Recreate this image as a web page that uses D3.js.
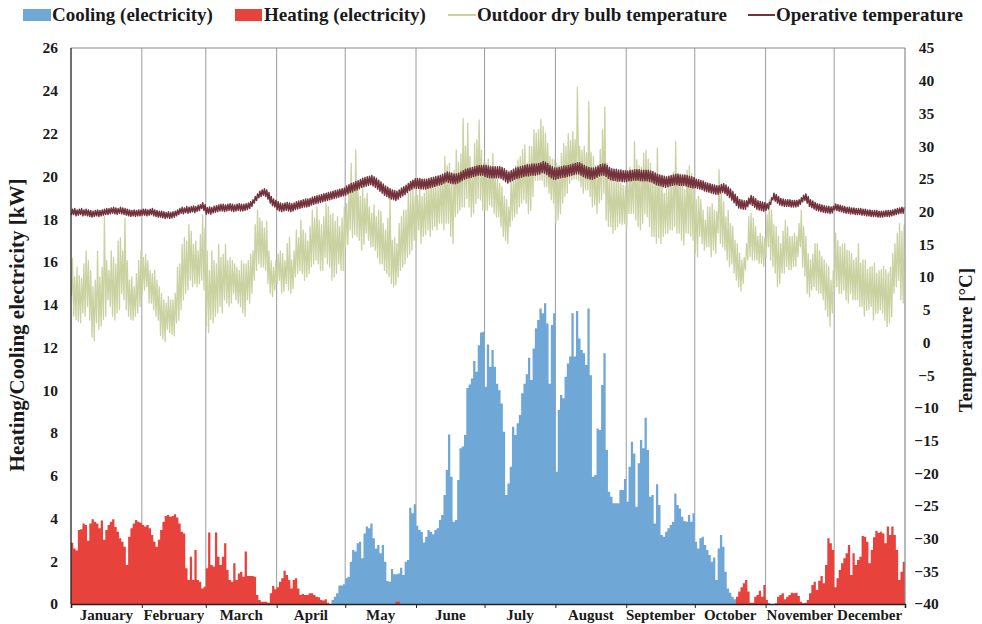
<!DOCTYPE html>
<html><head><meta charset="utf-8">
<script src="https://cdn.jsdelivr.net/npm/d3@7"></script>
<style>
html,body{margin:0;padding:0;background:#fff;}
svg text{font-family:"Liberation Serif","Times New Roman",serif;font-weight:bold;fill:#1a1a1a;}
</style></head>
<body><svg id="chart" width="982" height="624"></svg>
<script>
const months = ["January","February","March","April","May","June","July","August","September","October","November","December"];
const monthDays = [31,28,31,30,31,30,31,31,30,31,30,31];
const leftTicks = [0,2,4,6,8,10,12,14,16,18,20,22,24,26];
const rightTicks = [-40,-35,-30,-25,-20,-15,-10,-5,0,5,10,15,20,25,30,35,40,45];

// daily cooling electricity [kW]
const coolingKW = [
 0,0,0,0,0,0,0,0,0,0,0,0,0,0,0,0,0,0,0,0,0,0,0,0,0,0,0,0,0,0,0,
 0,0,0,0,0,0,0,0,0,0,0,0,0,0,0,0,0,0,0,0,0,0,0,0,0,0,0,0,
 0,0,0,0,0,0,0,0,0,0,0,0,0,0,0,0,0,0,0,0,0,0,0,0,0,0,0,0,0,0,0,
 0,0,0,0,0,0,0,0,0,0,0,0,0,0,0,0,0,0,0,0,0,0,0,0,0.19,0.34,0.5,0.86,0.86,0.92,
 1.2,1.28,1.98,2.52,2.45,2.84,2.91,2.14,3.3,3.62,3.54,3.77,3.07,2.6,2.76,2.37,2.76,1.98,1.08,1.04,1.64,1.39,1.39,1.43,1.7,1.36,1.98,2.06,4.5,4.24,4.66,
 3.66,3.46,3.38,2.88,3.15,3.46,3.38,3.26,3.46,3.54,3.93,4.16,5.1,6.27,7.93,5.95,3.85,3.93,5.8,7.28,7.36,7.9,10.1,10.27,10.55,11.36,10.86,12.1,12.7,12.73,
 10.16,12.14,11.1,11.88,11.1,10.3,10.0,9.38,8.06,5.1,5.64,6.42,8.29,7.9,8.45,8.84,9.85,10.3,10.74,11.52,10.47,11.95,12.9,13.28,13.82,13.6,14.06,13.12,10.3,13.05,13.6,
 6.19,9.07,9.77,9.62,10.63,11.25,11.57,13.6,11.57,13.7,12.42,11.88,11.72,11.18,13.82,10.7,5.95,6.03,8.21,8.14,10.24,11.72,7.2,5.25,5.02,4.71,4.71,4.71,5.33,5.33,5.84,
 4.78,6.42,7.59,7.04,4.55,6.58,7.67,7.28,8.71,7.2,5.02,5.1,3.77,5.6,4.63,3.23,3.15,3.38,3.54,3.69,3.85,5.17,4.63,4.47,4.08,3.88,3.85,4.16,3.85,4.24,
 2.91,2.6,3.07,3.15,2.76,2.52,2.29,1.98,2.18,1.12,2.6,3.23,2.68,1.51,0.73,0.53,0.34,0.22,0,0,0,0,0,0,0,0,0,0,0,0,0,
 0,0,0,0,0,0,0,0,0,0,0,0,0,0,0,0,0,0,0,0,0,0,0,0,0,0,0,0,0,0,
 0,0,0,0,0,0,0,0,0,0,0,0,0,0,0,0,0,0,0,0,0,0,0,0,0,0,0,0,0,0,0
];

// daily heating electricity [kW]
const heatingKW = [
 2.87,2.6,2.5,3.46,3.5,3.77,3.7,2.96,3.77,3.96,3.85,3.77,3.54,3.9,3.0,3.46,3.7,3.85,3.96,3.6,3.38,3.07,2.91,2.68,1.82,3.15,3.54,3.77,3.93,3.85,3.8,
 3.69,3.62,3.69,3.54,3.23,2.91,2.68,3.0,3.46,3.85,4.11,4.16,4.08,4.11,4.2,4.05,3.77,3.38,3.3,1.67,1.12,2.21,1.12,2.52,1.12,1.04,0.73,0.81,
 1.67,3.34,1.82,1.75,3.34,2.21,1.82,2.21,2.84,1.59,1.12,1.04,1.9,1.12,1.43,1.51,1.28,2.45,1.31,1.31,1.31,1.28,0.42,0.19,0.1,0.1,0.1,0.06,0.5,0.84,0.69,
 0.78,1.04,1.2,1.56,1.36,1.12,0.73,1.12,1.2,0.73,0.42,0.47,0.42,0.42,0.5,0.5,0.42,0.34,0.31,0.19,0.16,0.22,0.06,0,0,0,0,0,0,0,
 0,0,0,0,0,0,0,0,0,0,0,0,0,0,0,0,0,0,0,0,0,0,0.12,0.12,0,0,0,0,0,0,0,
 0,0,0,0,0,0,0,0,0,0,0,0,0,0,0,0,0,0,0,0,0,0,0,0,0,0,0,0,0,0,
 0,0,0,0,0,0,0,0,0,0,0,0,0,0,0,0,0,0,0,0,0,0,0,0,0,0,0,0,0,0,0,
 0,0,0,0,0,0,0,0,0,0,0,0,0,0,0,0,0,0,0,0,0,0,0,0,0,0,0,0,0,0,0,
 0,0,0,0,0,0,0,0,0,0,0,0,0,0,0,0,0,0,0,0,0,0,0,0,0,0,0,0,0,0,
 0,0,0,0,0,0,0,0,0,0,0,0,0,0,0,0,0,0,0.34,0.58,0.78,0.97,1.12,0.58,0.06,0.06,0.34,0.42,0.62,0.34,0.89,
 0.19,0.03,0,0,0.03,0.34,0.42,0.5,0.22,0.34,0.42,0.53,0.5,0.53,0.37,0.11,0.03,0.06,0.19,0.5,0.89,1.04,0.65,1.09,1.31,0.97,1.82,3.07,2.84,2.52,
 0.78,1.2,1.59,1.9,2.14,2.37,2.76,1.36,2.37,1.82,2.06,2.21,3.18,3.15,2.91,1.9,2.52,3.12,3.43,3.33,3.38,3.3,2.84,3.62,3.23,3.62,3.23,2.52,1.12,1.51,1.98
];

// daily max / min outdoor dry bulb temperature [°C]
const outdoorMax = [
 12.8,10.0,11.5,10.2,9.8,12.0,14.0,12.5,11.0,8.5,9.5,14.0,10.0,11.5,19.2,12.5,11.0,14.0,13.0,12.0,15.5,16.0,14.0,19.0,12.5,9.5,10.0,8.5,10.5,12.5,14.0,
 13.0,13.5,12.5,11.0,10.5,11.0,9.5,8.5,7.5,6.5,6.0,7.0,6.5,6.5,7.5,11.5,12.0,15.0,16.0,15.5,18.0,17.0,15.0,15.5,14.0,16.5,19.5,17.5,
 14.0,11.0,14.0,12.5,12.0,15.0,13.0,13.5,15.0,12.5,13.0,12.5,12.0,11.5,11.0,12.5,12.0,12.0,12.5,13.5,14.0,18.0,20.2,19.0,18.5,17.5,18.5,14.0,12.5,11.5,12.5,
 13.5,14.0,13.6,12.5,15.1,16.1,12.6,14.0,17.2,16.0,18.7,17.2,16.7,15.5,17.7,20.2,19.0,20.7,18.7,18.0,19.2,21.2,20.7,19.5,19.7,18.5,19.2,17.7,19.0,20.7,
 21.2,23.5,27.4,24.0,29.4,23.3,22.3,23.8,22.0,22.8,20.7,19.7,21.0,19.2,20.2,20.0,18.2,17.2,19.0,22.3,15.6,16.0,15.1,18.2,19.2,20.2,20.2,22.8,23.3,23.5,22.3,
 22.5,23.8,22.3,22.8,24.0,23.8,24.8,25.0,24.3,23.8,25.3,25.8,28.4,27.0,27.4,25.3,26.3,29.4,27.5,28.8,34.2,30.0,33.5,28.4,26.3,30.4,31.0,34.0,29.4,27.4,
 27.4,28.0,27.0,28.9,25.8,25.0,24.3,23.8,22.3,21.8,20.7,24.8,25.8,27.0,27.9,28.4,29.5,30.2,27.4,30.0,29.9,32.5,32.0,32.5,34.1,33.0,32.0,30.4,28.4,28.0,27.9,
 27.4,27.0,28.9,30.4,30.0,31.9,30.9,32.2,31.0,39.0,30.0,29.4,30.0,29.0,36.8,29.0,28.4,27.0,26.8,29.5,32.5,36.0,27.4,25.8,25.0,24.8,25.3,25.3,24.3,24.0,23.8,
 24.8,26.8,25.8,30.7,27.9,27.0,26.8,28.9,29.4,28.0,27.4,25.3,24.8,29.7,25.3,24.8,22.8,23.3,24.0,24.8,26.0,30.7,25.8,25.8,24.8,23.3,26.3,27.0,25.8,23.8,
 21.8,22.3,21.8,20.2,18.7,20.7,20.7,21.2,20.2,20.0,26.4,22.8,21.5,19.2,20.2,18.2,17.7,15.6,15.1,13.6,12.6,13.0,15.1,19.2,19.7,19.0,17.7,16.2,16.7,16.2,16.0,
 19.5,21.8,20.2,18.0,17.7,16.2,15.1,17.0,18.7,17.7,16.2,16.2,16.7,16.2,18.2,20.2,17.7,16.2,13.6,12.6,13.5,15.1,15.1,14.0,13.1,12.6,12.0,11.6,9.5,11.0,
 16.7,15.6,14.6,15.0,15.1,14.1,14.0,13.6,12.6,13.0,15.1,12.1,12.6,12.6,11.1,11.5,11.6,12.1,10.6,11.0,11.1,11.6,11.1,10.6,11.5,13.6,15.1,16.7,18.2,17.0,18.0
];
const outdoorMin = [
 7.0,4.0,3.5,3.2,3.0,4.5,4.0,5.5,3.4,0.8,0.2,3.0,2.0,2.5,3.5,4.0,6.5,5.5,4.0,3.4,4.5,5.0,7.5,6.5,5.0,4.0,3.5,3.4,4.0,4.5,5.5,
 7.5,8.0,8.5,6.0,6.0,5.0,4.0,3.4,1.0,0.5,0.1,2.0,1.5,1.2,1.0,3.0,3.4,5.0,6.5,7.5,8.0,9.5,8.5,9.0,8.5,9.0,9.5,8.0,
 2.5,1.5,3.5,3.0,4.0,4.5,5.5,4.5,6.5,6.0,5.5,6.0,7.5,6.5,6.0,5.5,4.5,4.0,6.5,6.0,7.5,9.5,11.0,12.0,11.5,11.5,11.0,9.0,7.5,7.0,8.0,
 9.0,9.5,7.5,7.8,9.0,8.0,7.5,8.2,10.0,10.5,11.0,10.5,9.5,10.0,10.5,11.6,12.0,12.6,12.0,11.0,11.0,13.0,12.0,11.5,9.5,10.0,10.5,12.0,11.0,11.0,
 14.6,15.0,17.2,16.0,16.5,16.2,15.6,14.1,15.0,16.7,15.6,14.6,14.6,14.1,13.0,12.0,12.0,11.0,10.5,10.0,9.0,8.5,8.8,10.0,11.0,11.5,12.0,13.0,13.5,14.1,15.6,
 15.6,17.2,15.1,16.2,16.5,17.2,16.2,17.2,17.7,17.2,18.2,18.2,17.2,18.2,18.2,16.2,15.1,19.2,19.7,20.2,20.7,20.7,22.0,20.7,19.2,19.7,21.2,22.0,21.8,20.2,
 20.2,20.2,21.0,20.7,19.7,19.2,19.2,17.7,16.2,15.6,15.1,17.7,18.7,19.2,19.7,20.7,21.3,21.8,21.3,19.7,20.2,22.3,24.8,24.8,24.8,24.8,23.8,23.8,22.8,21.8,21.3,
 18.2,18.7,19.7,21.3,22.3,22.8,24.3,24.8,25.0,25.0,24.8,23.8,22.8,23.3,23.3,22.3,20.7,21.0,19.7,21.3,21.8,22.8,18.7,17.7,17.7,16.7,17.2,17.7,18.2,18.0,18.2,
 17.2,19.7,19.7,19.7,18.7,17.7,17.2,18.2,19.7,19.2,17.7,16.2,16.2,15.1,16.0,15.1,16.2,16.7,16.7,17.2,17.2,17.7,16.7,16.7,15.6,14.9,16.7,16.7,16.2,15.6,
 13.6,13.1,16.2,15.1,14.1,14.6,14.6,13.1,14.1,13.6,16.7,15.1,14.6,14.1,12.6,11.6,12.0,10.6,9.5,8.5,7.8,9.0,11.1,12.6,13.1,12.6,12.6,12.6,12.1,12.1,11.6,
 13.0,14.6,12.6,11.6,10.6,8.5,9.0,10.6,10.6,11.6,11.1,11.1,11.6,11.6,13.1,14.6,11.5,10.1,7.5,7.0,8.0,8.5,8.0,7.5,7.5,6.5,5.0,3.9,2.4,4.5,
 8.0,8.5,7.5,7.5,8.0,6.5,6.0,7.5,6.5,6.5,6.5,5.5,5.5,4.0,4.9,5.0,5.5,3.4,4.4,4.5,5.0,4.5,3.4,2.4,3.0,3.9,7.5,8.5,9.5,6.5,6.0
];

// daily mean operative temperature [°C] and its typical daily range per month
const operativeMean = [
 19.9,20.0,19.8,19.9,20.0,19.8,19.9,19.8,19.7,19.6,19.7,19.8,19.7,19.8,19.9,20.0,20.0,20.1,20.2,20.1,20.0,20.2,20.1,20.0,19.9,19.8,19.7,19.8,19.7,19.8,19.8,
 19.9,19.9,19.8,19.9,20.0,19.8,19.7,19.6,19.6,19.5,19.4,19.5,19.4,19.5,19.6,19.8,20.0,20.2,20.1,20.3,20.2,20.3,20.4,20.3,20.5,20.6,20.9,20.6,
 20.1,20.2,20.1,20.3,20.4,20.5,20.6,20.6,20.5,20.6,20.7,20.6,20.5,20.6,20.7,20.6,20.6,20.7,20.8,21.0,21.3,21.8,22.2,22.6,22.8,23.0,22.8,22.4,21.8,21.4,21.2,
 20.9,20.7,20.6,20.7,20.8,20.7,20.6,20.7,20.9,21.0,21.1,21.2,21.3,21.3,21.4,21.6,21.7,21.8,21.9,22.0,22.1,22.2,22.3,22.4,22.5,22.6,22.7,22.8,22.9,23.0,
 23.2,23.4,23.6,23.7,23.9,24.0,24.2,24.4,24.5,24.6,24.7,24.8,24.6,24.4,24.1,23.8,23.5,23.2,23.0,22.8,22.6,22.5,22.4,22.6,22.9,23.1,23.3,23.6,23.9,24.1,24.3,
 24.3,24.3,24.2,24.2,24.2,24.3,24.4,24.5,24.6,24.7,24.8,24.9,25.1,25.3,25.2,25.1,25.0,25.0,25.1,25.3,25.5,25.7,25.8,25.9,26.0,26.1,26.2,26.3,26.3,26.3,
 26.2,26.1,26.0,26.0,26.0,26.0,26.0,25.9,25.7,25.4,25.2,25.4,25.6,25.8,25.9,26.0,26.1,26.2,26.3,26.3,26.4,26.4,26.4,26.5,26.6,26.8,26.7,26.5,26.2,26.0,25.8,
 25.8,25.9,26.0,26.1,26.1,26.2,26.3,26.4,26.5,26.6,26.6,26.4,26.2,26.0,25.9,25.8,25.8,25.9,26.1,26.3,26.4,26.4,26.2,25.9,25.7,25.6,25.6,25.5,25.5,25.4,25.4,
 25.4,25.5,25.5,25.6,25.6,25.6,25.5,25.5,25.5,25.5,25.4,25.3,25.1,24.9,24.8,24.7,24.6,24.5,24.6,24.7,24.8,24.9,24.9,24.8,24.8,24.8,24.7,24.6,24.5,24.4,
 24.3,24.2,24.1,24.0,23.8,23.7,23.6,23.5,23.4,23.3,23.3,23.5,23.6,23.4,23.1,22.8,22.4,22.0,21.6,21.2,21.1,21.0,21.0,21.4,21.8,21.6,21.3,21.0,20.9,20.8,20.7,
 20.7,20.9,21.6,22.3,22.1,21.8,21.5,21.4,21.3,21.3,21.3,21.2,21.2,21.2,21.3,21.6,22.0,22.2,21.8,21.3,21.1,20.9,20.7,20.6,20.5,20.4,20.3,20.3,20.2,20.3,
 20.7,20.6,20.5,20.4,20.3,20.2,20.2,20.1,20.1,20.0,20.0,20.0,19.9,19.9,19.8,19.8,19.7,19.7,19.7,19.6,19.6,19.6,19.7,19.7,19.7,19.8,19.9,20.0,20.1,20.2,20.2
];
const operativeDailyRange = [0.9,0.9,1.0,1.2,1.4,1.5,1.7,1.7,1.6,1.3,1.0,0.9];

const C_COOL = "#6fa8d6", C_HEAT = "#e8423d", C_OUT = "#cad2a2", C_OP = "#74323d";

const svg = d3.select("#chart");
const L = 71, R = 905, T = 48, B = 604;
const x = d3.scaleLinear().domain([0, 365]).range([L, R]);
const yL = d3.scaleLinear().domain([0, 26]).range([B, T]);
const yR = d3.scaleLinear().domain([-40, 45]).range([B, T]);

// month boundaries
const bounds = [0];
monthDays.forEach(n => bounds.push(bounds[bounds.length - 1] + n));
const monthOfDay = [];
monthDays.forEach((n, m) => { for (let i = 0; i < n; i++) monthOfDay.push(m); });

// month separator lines (behind bars)
svg.append("g").selectAll("line").data(bounds.slice(1, 12)).join("line")
  .attr("x1", d => x(d)).attr("x2", d => x(d)).attr("y1", T).attr("y2", B)
  .attr("stroke", "#9b9b9b").attr("stroke-width", 1);

// bars drawn as step areas (one column per day)
const days = d3.range(365);
const stepIdx = d3.range(366);
const stepArea = arr => d3.area()
  .curve(d3.curveStepAfter)
  .x(d => x(d))
  .y0(yL(0))
  .y1(d => yL(arr[Math.min(d, 364)]));
svg.append("path").datum(stepIdx).attr("d", stepArea(coolingKW)).attr("fill", C_COOL);
svg.append("path").datum(stepIdx).attr("d", stepArea(heatingKW)).attr("fill", C_HEAT);

// outdoor temperature: daily min and max
const outPts = [];
days.forEach(d => { outPts.push([d + 0.2, outdoorMin[d]]); outPts.push([d + 0.62, outdoorMax[d]]); });
const line = d3.line().x(p => x(p[0])).y(p => yR(p[1]));
svg.append("path").datum(outPts).attr("d", line)
  .attr("fill", "none").attr("stroke", C_OUT).attr("stroke-width", 1.3).attr("stroke-linejoin", "round");

// operative temperature
const opPts = [];
days.forEach(d => {
  const h = operativeDailyRange[monthOfDay[d]] / 2;
  opPts.push([d + 0.2, operativeMean[d] - h]);
  opPts.push([d + 0.65, operativeMean[d] + h]);
});
svg.append("path").datum(opPts).attr("d", line)
  .attr("fill", "none").attr("stroke", C_OP).attr("stroke-width", 1.5).attr("stroke-linejoin", "round");

// frame
svg.append("line").attr("x1", L).attr("x2", R).attr("y1", T).attr("y2", T).attr("stroke", "#8a8a8a").attr("stroke-width", 1.2);
svg.append("line").attr("x1", R).attr("x2", R).attr("y1", T).attr("y2", B).attr("stroke", "#8a8a8a").attr("stroke-width", 1.2);
svg.append("line").attr("x1", L).attr("x2", L).attr("y1", T).attr("y2", B).attr("stroke", "#222").attr("stroke-width", 1.3);

// bottom axis with month ticks
const xAxis = d3.axisBottom(x).tickValues(bounds).tickSize(4).tickFormat("");
const gx = svg.append("g").attr("transform", `translate(0,${B})`).call(xAxis);
gx.select(".domain").attr("stroke", "#222").attr("stroke-width", 1.6);
gx.selectAll(".tick line").attr("stroke", "#222");
svg.append("g").selectAll("text").data(months).join("text")
  .attr("x", (m, i) => x((bounds[i] + bounds[i + 1]) / 2)).attr("y", 620)
  .attr("text-anchor", "middle").attr("font-size", 15).text(m => m);

// left axis labels
const yAxisL = d3.axisLeft(yL).tickValues(leftTicks).tickSize(0).tickPadding(13);
const gl = svg.append("g").attr("transform", `translate(${L},0)`).call(yAxisL);
gl.select(".domain").remove();
gl.selectAll("text").attr("font-size", 15.5).attr("fill", "#1a1a1a");
gl.attr("font-family", null);

// right axis labels
const yAxisR = d3.axisRight(yR).tickValues(rightTicks).tickSize(0).tickPadding(0);
const gr = svg.append("g").attr("transform", `translate(${R},0)`).call(yAxisR);
gr.select(".domain").remove();
gr.selectAll("text").attr("font-size", 15.5).attr("text-anchor", "middle").attr("x", 21.5).attr("fill", "#1a1a1a");
gr.attr("font-family", null);

// axis titles
svg.append("text").attr("transform", "translate(24,325) rotate(-90)")
  .attr("text-anchor", "middle").attr("font-size", 21).text("Heating/Cooling electricity [kW]");
svg.append("text").attr("transform", "translate(972,340) rotate(-90)")
  .attr("text-anchor", "middle").attr("font-size", 19).text("Temperature [°C]");

// legend
const lg = svg.append("g");
lg.append("rect").attr("x", 23).attr("y", 9).attr("width", 28).attr("height", 12).attr("fill", C_COOL);
lg.append("text").attr("x", 52).attr("y", 21).attr("font-size", 19).text("Cooling (electricity)");
lg.append("rect").attr("x", 235).attr("y", 9).attr("width", 27).attr("height", 12).attr("fill", C_HEAT);
lg.append("text").attr("x", 264).attr("y", 21).attr("font-size", 19).text("Heating (electricity)");
lg.append("line").attr("x1", 448).attr("x2", 476).attr("y1", 15).attr("y2", 15).attr("stroke", C_OUT).attr("stroke-width", 2);
lg.append("text").attr("x", 477).attr("y", 21).attr("font-size", 19).text("Outdoor dry bulb temperature");
lg.append("line").attr("x1", 748).attr("x2", 775).attr("y1", 15).attr("y2", 15).attr("stroke", C_OP).attr("stroke-width", 2);
lg.append("text").attr("x", 776).attr("y", 21).attr("font-size", 19).text("Operative temperature");
</script></body></html>
